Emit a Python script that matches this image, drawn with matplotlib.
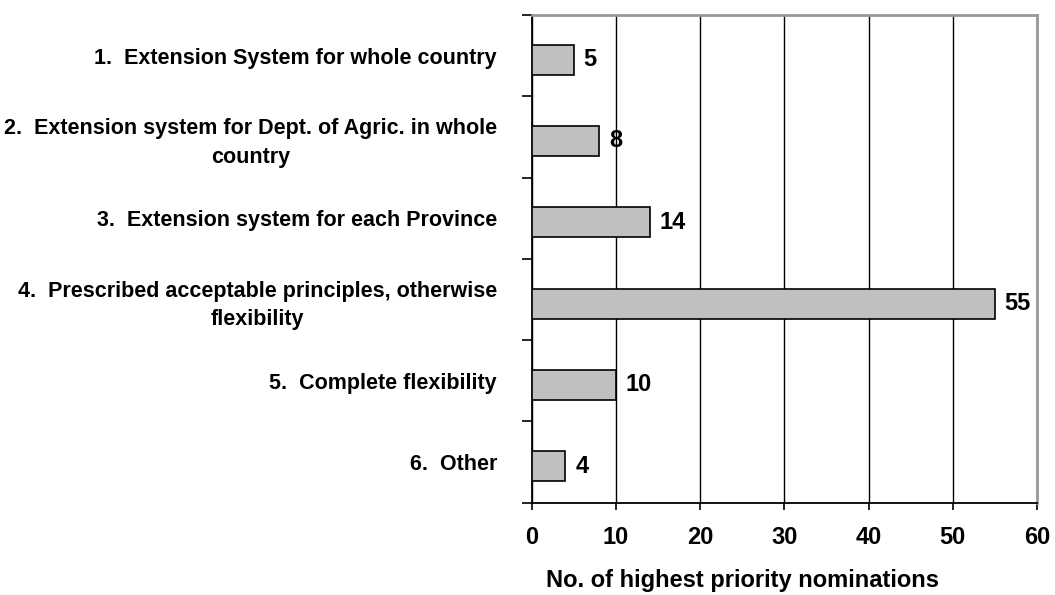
import numpy as np
import matplotlib
matplotlib.use('Agg')
import matplotlib.pyplot as plt

plt.rcParams['font.family'] = ['Liberation Sans', 'DejaVu Sans']
plt.rcParams['font.weight'] = 'bold'

categories = ['1.  Extension System for whole country',
              '2.  Extension system for Dept. of Agric. in whole\ncountry',
              '3.  Extension system for each Province',
              '4.  Prescribed acceptable principles, otherwise\nflexibility',
              '5.  Complete flexibility',
              '6.  Other']
nominations = [5, 8, 14, 55, 10, 4]
x_ticks = [0, 10, 20, 30, 40, 50, 60]
x_label = 'No. of highest priority nominations'

fig = plt.figure(figsize=(10.55, 5.95), dpi=100)
ax = fig.add_axes([0.504, 0.155, 0.479, 0.820])

ypos = np.arange(len(categories)) + 0.05
ax.barh(ypos, nominations, height=0.37, color='#c0c0c0',
        edgecolor='black', linewidth=1.2, zorder=3)
for y, v in zip(ypos, nominations):
    ax.annotate(str(v), xy=(v, y), xytext=(7, 0), textcoords='offset points',
                va='center', ha='left', fontsize=17, fontweight='bold')

ax.set_xlim(0, 60)
ax.set_ylim(len(categories) - 0.5, -0.5)
ax.set_xticks(x_ticks)
ax.set_xticklabels([str(t) for t in x_ticks], fontsize=17, fontweight='bold')
ax.tick_params(axis='x', direction='out', length=5, width=1.2, pad=12)
ax.xaxis.grid(True, color='black', linewidth=1.0, zorder=0)

ax.set_yticks(np.arange(len(categories)))
ax.set_yticklabels(categories, fontsize=15.5, fontweight='bold',
                   multialignment='center', linespacing=1.45)
ax.tick_params(axis='y', which='major', length=0, pad=25)
ax.set_yticks(np.arange(len(categories) + 1) - 0.5, minor=True)
ax.tick_params(axis='y', which='minor', direction='out', length=7, width=1.2)

for side in ['top', 'right']:
    ax.spines[side].set_color('#999999')
    ax.spines[side].set_linewidth(2)
for side in ['left', 'bottom']:
    ax.spines[side].set_color('black')
    ax.spines[side].set_linewidth(1.3)

ax.set_xlabel(x_label, fontsize=17, fontweight='bold', labelpad=12)
ax.xaxis.set_label_coords(0.418, -0.135)

fig.savefig('out.png', dpi=100)
